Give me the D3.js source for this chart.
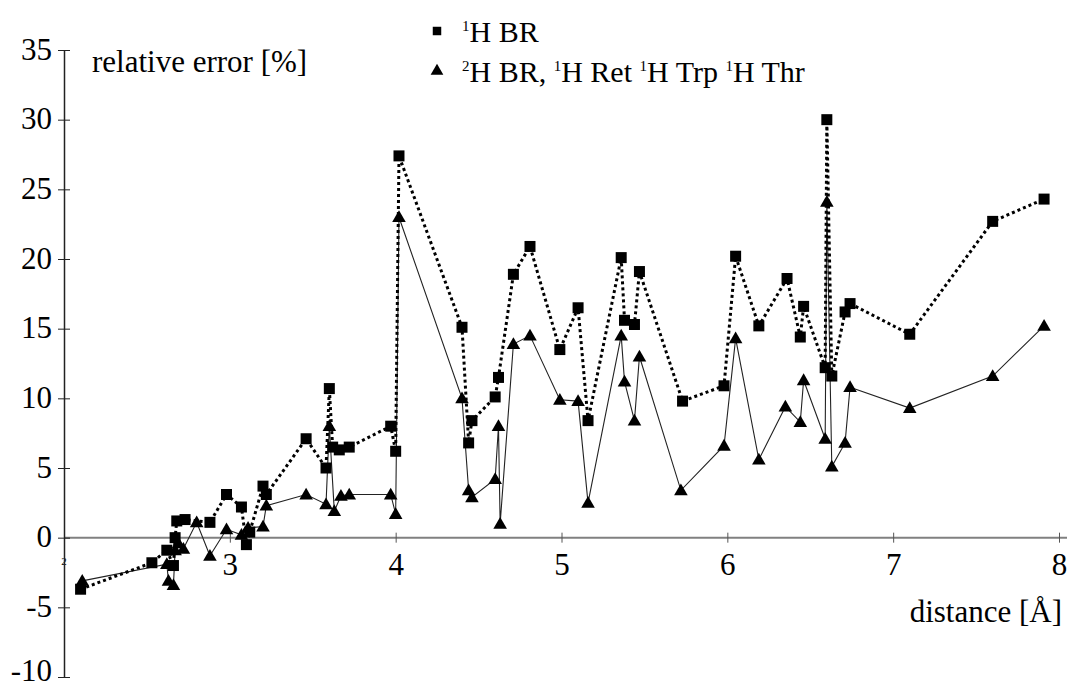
<!DOCTYPE html>
<html>
  <head>
    <title>Relative error vs distance</title>
    <style>
      body { margin: 0; background: #fff; }
      text { font-family: 'Liberation Serif', 'DejaVu Serif', serif; }
      .sq-line { fill: none; stroke: #000; stroke-width: 3; stroke-dasharray: 3,3; }
      .tr-line { fill: none; stroke: #222; stroke-width: 1.1; }
      .lbl { font-size: 31px; fill: #000; }
      .leg { font-size: 30px; fill: #000; }
    </style>
    <script src="https://d3js.org/d3.v7.min.js"></script>
  </head>
  <body>
    <div id="chart"></div>
    <script>
// 1H BR (squares, dotted line)
var sqDist = [2.10, 2.53, 2.62, 2.66, 2.67, 2.68, 2.73, 2.88, 2.98, 3.07, 3.10, 3.12, 3.20, 3.22,
  3.46, 3.58, 3.60, 3.62, 3.66, 3.72, 3.97, 4.00, 4.02, 4.40, 4.44, 4.46, 4.60, 4.62, 4.71, 4.81,
  4.99, 5.10, 5.16, 5.36, 5.38, 5.44, 5.47, 5.73, 5.98, 6.05, 6.19, 6.36, 6.44, 6.46, 6.59, 6.60,
  6.63, 6.71, 6.74, 7.10, 7.60, 7.91];
var sqErr = [-3.7, -1.8, -0.9, -2.0, 0.0, 1.2, 1.3, 1.1, 3.1, 2.2, -0.5, 0.4, 3.7, 3.1,
  7.1, 5.0, 10.7, 6.5, 6.3, 6.5, 8.0, 6.2, 27.4, 15.1, 6.8, 8.4, 10.1, 11.5, 18.9, 20.9,
  13.5, 16.5, 8.4, 20.1, 15.6, 15.3, 19.1, 9.8, 10.9, 20.2, 15.2, 18.6, 14.4, 16.6, 12.2, 30.0,
  11.6, 16.2, 16.8, 14.6, 22.7, 24.3];

// 2H BR, 1H Ret 1H Trp 1H Thr (triangles, solid line)
var trDist = [2.11, 2.62, 2.63, 2.66, 2.67, 2.69, 2.72, 2.80, 2.88, 2.98, 3.07, 3.11, 3.20, 3.22,
  3.46, 3.58, 3.60, 3.63, 3.67, 3.72, 3.97, 4.00, 4.02, 4.40, 4.44, 4.46, 4.60, 4.62, 4.63, 4.71,
  4.81, 4.99, 5.10, 5.16, 5.36, 5.38, 5.44, 5.47, 5.72, 5.98, 6.05, 6.19, 6.35, 6.44, 6.46, 6.59,
  6.60, 6.63, 6.71, 6.74, 7.10, 7.60, 7.91];
var trErr = [-3.1, -1.9, -3.1, -3.4, -0.9, -0.4, -0.8, 1.1, -1.3, 0.6, 0.2, 0.7, 0.8, 2.3,
  3.1, 2.4, 8.0, 1.9, 3.0, 3.1, 3.1, 1.7, 23.0, 10.0, 3.4, 2.9, 4.2, 8.0, 1.0, 13.9,
  14.5, 9.9, 9.8, 2.5, 14.5, 11.2, 8.4, 13.0, 3.4, 6.6, 14.3, 5.6, 9.4, 8.3, 11.3, 7.1,
  24.1, 5.1, 6.8, 10.8, 9.3, 11.6, 15.2];

var yTicks = [-10, -5, 0, 5, 10, 15, 20, 25, 30, 35];
var xTicks = [3, 4, 5, 6, 7, 8];

var width = 1067, height = 688;
var serif = "'Liberation Serif', 'DejaVu Serif', serif";

var svg = d3.select("#chart").append("svg")
  .attr("width", width)
  .attr("height", height)
  .style("font-family", serif);

var x = d3.scaleLinear().domain([2, 8]).range([64, 1059]);
var y = d3.scaleLinear().domain([-10, 35]).range([677, 50]);

// x axis (gray line at zero)
svg.append("line")
  .attr("x1", x(2)).attr("x2", width)
  .attr("y1", y(0)).attr("y2", y(0))
  .attr("stroke", "#808080").attr("stroke-width", 2);

var xg = svg.append("g")
  .attr("transform", `translate(0, ${y(0)})`)
  .call(d3.axisBottom(x).tickValues(xTicks).tickSizeOuter(0).tickFormat(d => String(d)));
xg.attr("font-family", serif).attr("font-size", null);
xg.select(".domain").remove();
xg.selectAll(".tick line").attr("y1", -5).attr("y2", 5).attr("stroke", "#555");
xg.selectAll(".tick text").attr("class", "lbl").attr("y", 37).attr("dy", null)
  .style("font-family", serif);

// the tiny "2" label at the origin
svg.append("text")
  .attr("x", x(2)).attr("y", y(0) + 27)
  .attr("text-anchor", "middle")
  .style("font-size", "11px")
  .style("font-family", serif)
  .text("2");

// y axis
var yg = svg.append("g")
  .attr("transform", `translate(${x(2)}, 0)`)
  .call(d3.axisLeft(y).tickValues(yTicks).tickSizeOuter(0).tickFormat(d => String(d)));
yg.attr("font-family", serif).attr("font-size", null);
yg.select(".domain").attr("stroke", "#222").attr("stroke-width", 1.5);
yg.selectAll(".tick line").attr("x1", -6).attr("x2", 6).attr("stroke", "#222");
yg.selectAll(".tick text").attr("class", "lbl").attr("x", -12)
  .attr("dy", d => d === -10 ? "0.12em" : "0.3em")
  .style("font-family", serif);

// axis titles
svg.append("text").attr("class", "lbl")
  .attr("x", 92).attr("y", 72)
  .style("font-family", serif)
  .text("relative error [%]");
svg.append("text").attr("class", "lbl")
  .attr("x", 1062).attr("y", 622).attr("text-anchor", "end")
  .style("font-family", serif)
  .text("distance [Å]");

var sqData = sqDist.map((d, i) => ({d: d, v: sqErr[i]}));
var trData = trDist.map((d, i) => ({d: d, v: trErr[i]}));

var line = d3.line().x(p => x(p.d)).y(p => y(p.v));

svg.append("path").attr("class", "tr-line").attr("d", line(trData));
svg.append("path").attr("class", "sq-line").attr("d", line(sqData));

var sqSym = d3.symbol().type(d3.symbolSquare).size(121);
var trSym = d3.symbol().type(d3.symbolTriangle).size(80);

svg.append("g").selectAll("path")
  .data(trData).enter().append("path")
  .attr("d", trSym)
  .attr("transform", p => `translate(${x(p.d)}, ${y(p.v) + 1})`)
  .attr("fill", "#000");

svg.append("g").selectAll("path")
  .data(sqData).enter().append("path")
  .attr("d", sqSym)
  .attr("transform", p => `translate(${x(p.d)}, ${y(p.v)})`)
  .attr("fill", "#000");

// legend
var legend = svg.append("g");
legend.append("path")
  .attr("d", d3.symbol().type(d3.symbolSquare).size(72))
  .attr("transform", "translate(437, 31)");
legend.append("path")
  .attr("d", d3.symbol().type(d3.symbolTriangle).size(70))
  .attr("transform", "translate(437, 71)");

function supLabel(t, xPos, yPos, parts) {
  var txt = t.append("text").attr("class", "leg").attr("x", xPos).attr("y", yPos)
    .style("font-family", serif);
  parts.forEach(function(p) {
    txt.append("tspan").attr("dy", -11).style("font-size", "15px").text(p.sup);
    txt.append("tspan").attr("dy", 11).text(p.t);
  });
}
supLabel(legend, 462, 42, [{sup: "1", t: "H BR"}]);
supLabel(legend, 462, 82, [{sup: "2", t: "H BR, "}, {sup: "1", t: "H Ret "},
  {sup: "1", t: "H Trp "}, {sup: "1", t: "H Thr"}]);
    </script>
  </body>
</html>
